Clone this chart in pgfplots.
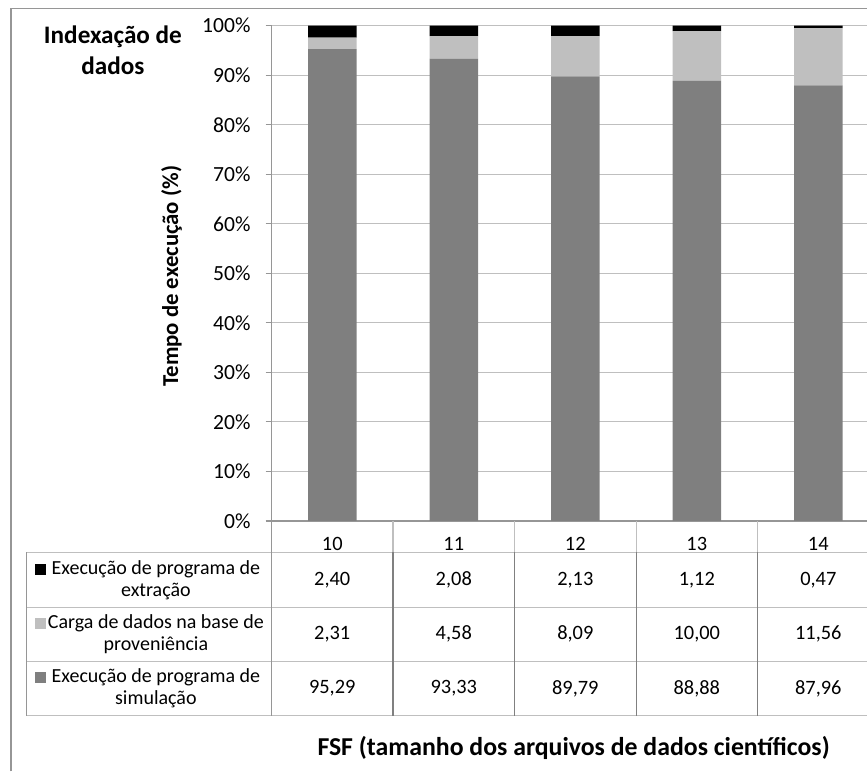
\documentclass[border=0pt]{standalone}
\usepackage{pgfplots}
\pgfplotsset{compat=1.18}
\usepackage{pgfplotstable}
\usepackage{fontspec}
\setmainfont{Carlito}

\definecolor{cExt}{RGB}{0,0,0}
\definecolor{cCarga}{RGB}{191,191,191}
\definecolor{cSim}{RGB}{127,127,127}
\definecolor{cGrid}{RGB}{191,191,191}
\definecolor{cAxis}{RGB}{150,150,150}
\definecolor{cDark}{RGB}{128,128,128}

% FSF, tempo de execucao (%)
\pgfplotstableread{
idx fsf sim carga extr
0 10 95.29 2.31 2.40
1 11 93.33 4.58 2.08
2 12 89.79 8.09 2.13
3 13 88.88 10.00 1.12
4 14 87.96 11.56 0.47
}\dados

\begin{document}
\begin{tikzpicture}
\begin{scope}[x=0.5pt,y=-0.5pt]
  \path[use as bounding box] (0,0) rectangle (868,772);
  \draw[cAxis, line width=0.6pt] (11,772) -- (11,8.3) -- (868,8.3);
\end{scope}

\begin{axis}[
  at={(135.85pt,-260.65pt)}, anchor=south west,
  scale only axis,
  width=298.15pt, height=247.8pt,
  ybar stacked, bar width=24.25pt,
  xmin=-0.5, xmax=4.404,
  ymin=0, ymax=100,
  enlargelimits=false,
  axis lines*=left,
  axis line style={cAxis, line width=0.6pt},
  ymajorgrids,
  major grid style={cGrid, line width=0.6pt},
  ytick={0,10,...,100},
  yticklabels={0\%,10\%,20\%,30\%,40\%,50\%,60\%,70\%,80\%,90\%,100\%},
  ytick style={cAxis, line width=0.6pt},
  major tick length=3pt, tick align=outside,
  xtick={0,...,4},
  xticklabels={10,11,12,13,14},
  xtick style={draw=none},
  yticklabel style={font=\fontsize{10.8}{12}\selectfont, xshift=-4pt},
  xticklabel style={font=\fontsize{10.2}{12}\selectfont, anchor=base, yshift=-11.8pt},
]
\addplot[fill=cSim, draw=none] table[x=idx, y=sim] {\dados};
\addplot[fill=cCarga, draw=none] table[x=idx, y=carga] {\dados};
\addplot[fill=cExt, draw=none] table[x=idx, y=extr] {\dados};
\end{axis}

\begin{scope}[x=0.5pt,y=-0.5pt]
  % titles
  \node[align=center, font=\fontsize{12.6}{15.5}\selectfont\bfseries] at (113,50) {Indexação de\\dados};
  \node[rotate=90, font=\fontsize{11.4}{13}\selectfont\bfseries] at (171.7,276.5) {Tempo de execução (\%)};
  \node[font=\fontsize{12.9}{15}\selectfont\bfseries] at (574,748) {FSF (tamanho dos arquivos de dados científicos)};

  % data table grid
  \foreach \yy in {552.7,607.7,661.7,716}
    \draw[cGrid, line width=0.6pt] (26.7,\yy) -- (868,\yy);
  \draw[cAxis, line width=0.6pt] (26.7,552.7) -- (26.7,716);
  \draw[cAxis, line width=0.6pt] (271.7,521.3) -- (271.7,716);
  \foreach \xx in {393.3,515,636.6,758.2} {
    \draw[cGrid, line width=0.6pt] (\xx,521.3) -- (\xx,552.7);
    \draw[cDark, line width=0.6pt] (\xx,552.7) -- (\xx,716);
  }

  % legend column
  \foreach \c/\yy/\txt in {cExt/580.2/{Execução de programa de\\extração},
                          cCarga/634.7/{Carga de dados na base de\\proveniência},
                          cSim/688.85/{Execução de programa de\\simulação}} {
    \fill[\c] (35,\yy-16) rectangle (46,\yy-5);
    \node[align=center, font=\fontsize{10}{11}\selectfont] at (156,\yy) {\txt};
  }

  % values
  \foreach \col/\yy in {extr/580.2, carga/634.7, sim/688.85} {
    \foreach \i in {0,...,4} {
      \pgfplotstablegetelem{\i}{\col}\of\dados
      \pgfmathsetmacro\xx{332.5+121.6*\i}
      \node[font=\fontsize{10.2}{12}\selectfont] at (\xx,\yy)
        {\pgfmathprintnumber[fixed,fixed zerofill,precision=2,use comma,assume math mode=true]{\pgfplotsretval}};
    }
  }
\end{scope}
\end{tikzpicture}
\end{document}
